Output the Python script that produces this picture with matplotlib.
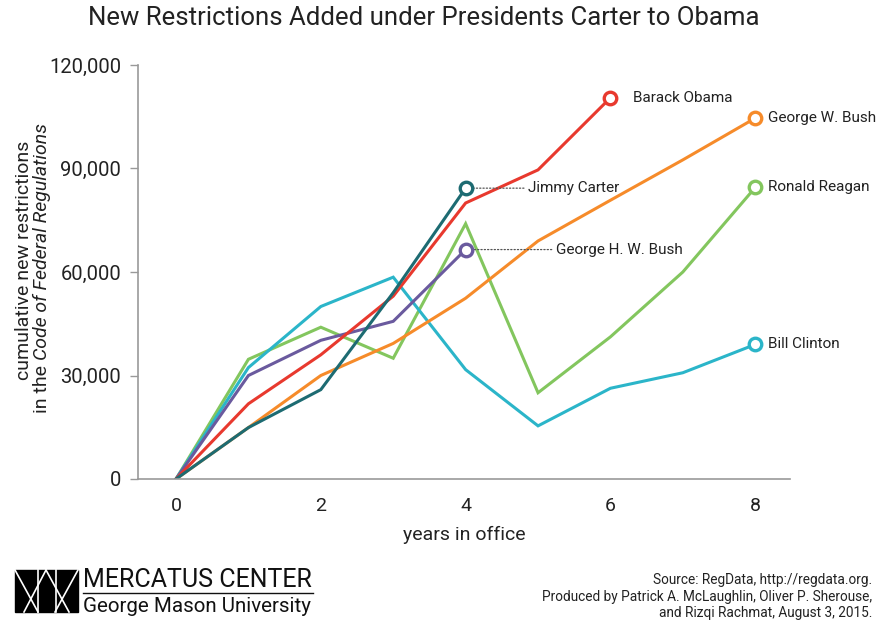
import matplotlib
matplotlib.use("Agg")
import matplotlib.pyplot as plt
from matplotlib.lines import Line2D
from matplotlib.patches import Rectangle

plt.rcParams['font.family'] = ['Roboto', 'DejaVu Sans']

# cumulative new restrictions by year in office
years_carter = [0, 1, 2, 3, 4]
carter = [0, 14900, 25900, 54000, 84300]
years_hwbush = [0, 1, 2, 3, 4]
hwbush = [0, 30000, 40200, 45700, 66500]
years_reagan = [0, 1, 2, 3, 4, 5, 6, 7, 8]
reagan = [0, 34700, 44000, 35000, 74000, 25000, 41200, 60000, 84500]
years_clinton = [0, 1, 2, 3, 4, 5, 6, 7, 8]
clinton = [0, 32300, 50000, 58500, 31700, 15400, 26300, 30800, 39000]
years_wbush = [0, 1, 2, 3, 4, 5, 6, 7, 8]
wbush = [0, 14900, 30000, 39300, 52400, 69000, 80800, 92500, 104600]
years_obama = [0, 1, 2, 3, 4, 5, 6]
obama = [0, 21800, 36000, 53000, 80000, 89600, 110500]

names = ["Jimmy Carter", "George H. W. Bush", "Ronald Reagan",
         "Bill Clinton", "George W. Bush", "Barack Obama"]
colors = ["#1d6b72", "#6a5a9e", "#83c65e", "#2bb5c9", "#f68b2a", "#e8392e"]

W, H = 882, 624
fig = plt.figure(figsize=(W / 100, H / 100), dpi=100)
ax = fig.add_axes([138 / W, 1 - 479 / H, (790 - 138) / W, (479 - 65) / H])

series = [(years_reagan, reagan), (years_clinton, clinton), (years_wbush, wbush),
          (years_hwbush, hwbush), (years_obama, obama), (years_carter, carter)]
order = [2, 3, 4, 1, 5, 0]
for (xs, ys), i in zip(series, order):
    ax.plot(xs, ys, color=colors[i], lw=2.2, solid_joinstyle='miter', zorder=2)
    ax.plot(xs[-1], ys[-1], 'o', ms=9, mfc='white', mec=colors[i], mew=2.4, zorder=4)

ax.set_xlim(-0.525, 8.48)
ax.set_ylim(0, 120000)
ax.set_xticks([0, 2, 4, 6, 8])
ax.set_yticks([0, 30000, 60000, 90000, 120000])
ax.set_yticklabels(["0", "30,000", "60,000", "90,000", "120,000"])
ax.tick_params(axis='x', length=0, pad=13, labelsize=14, labelcolor='#222222')
ax.tick_params(axis='y', length=6, width=1, color='#999999', pad=6,
               labelsize=14.5, labelcolor='#222222')
for s in ['top', 'right']:
    ax.spines[s].set_visible(False)
for s in ['left', 'bottom']:
    ax.spines[s].set_color('#999999')
    ax.spines[s].set_linewidth(1.2)
# bottom axis line runs a bit past the y axis
ax.add_line(Line2D([132 / W, 138 / W], [1 - 479 / H] * 2, transform=fig.transFigure,
                   color='#999999', lw=1.2))

ax.set_xlabel("years in office", fontsize=14, color='#222222', labelpad=8)

# end-of-line labels
lab = dict(fontsize=11, color='#222222', va='center')
ax.annotate(names[5], (years_obama[-1], obama[-1]), xytext=(16.5, 0), textcoords='offset points', **lab)
ax.annotate(names[4], (years_wbush[-1], wbush[-1]), xytext=(9, 0), textcoords='offset points', **lab)
ax.annotate(names[2], (years_reagan[-1], reagan[-1]), xytext=(9, 0), textcoords='offset points', **lab)
ax.annotate(names[3], (years_clinton[-1], clinton[-1]), xytext=(9, 0), textcoords='offset points', **lab)
ax.annotate(names[0], (years_carter[-1], carter[-1]), xytext=(45, 0), textcoords='offset points',
            arrowprops=dict(arrowstyle='-', ls=':', color='#555555', lw=0.9, shrinkA=1, shrinkB=6), **lab)
ax.annotate(names[1], (years_hwbush[-1], hwbush[-1]), xytext=(65, 0), textcoords='offset points',
            arrowprops=dict(arrowstyle='-', ls=':', color='#555555', lw=0.9, shrinkA=1, shrinkB=6), **lab)

# title
fig.text(424 / W, 1 - 18 / H, "New Restrictions Added under Presidents Carter to Obama",
         ha='center', va='center', fontsize=18.5, color='#222222')

# y label, two lines, second one partly italic
fig.text(24 / W, 1 - 260 / H, "cumulative new restrictions", rotation=90,
         ha='center', va='center', fontsize=14, color='#222222')
t1 = fig.text(42 / W, 1 - 413 / H, "in the ", rotation=90, ha='center', va='bottom',
              fontsize=14, color='#222222')
fig.canvas.draw()
bb = t1.get_window_extent()
fig.text(42 / W, bb.y1 / H, "Code of Federal Regulations", rotation=90, ha='center',
         va='bottom', fontsize=14, style='italic', color='#222222')

# footer: logo
fig.add_artist(Rectangle((15 / W, 1 - 612 / H), 63 / W, 42 / H, transform=fig.transFigure,
                         color='black'))
for x0, x1 in [(15, 38), (46, 24), (46, 69), (78, 55), (38, 38), (56, 56)]:
    fig.add_artist(Line2D([x0 / W, x1 / W], [1 - 570 / H, 1 - 612 / H],
                          transform=fig.transFigure, color='white', lw=1.2))
fig.text(83 / W, 1 - 580 / H, "MERCATUS CENTER", fontsize=18, ha='left', va='center',
         color='#111111')
fig.add_artist(Line2D([83 / W, 313 / W], [1 - 593 / H] * 2, transform=fig.transFigure,
                      color='#111111', lw=1))
fig.text(83 / W, 1 - 606 / H, "George Mason University", fontsize=14.8, ha='left', va='center',
         color='#111111')

# footer: source
src = ["Source: RegData, http://regdata.org.",
       "Produced by Patrick A. McLaughlin, Oliver P. Sherouse,",
       "and Rizqi Rachmat, August 3, 2015."]
for k, s in enumerate(src):
    fig.text(872 / W, 1 - (580 + 16.5 * k) / H, s, fontsize=9.8, ha='right', va='center',
             color='#222222')

fig.savefig("out.png", dpi=100)
